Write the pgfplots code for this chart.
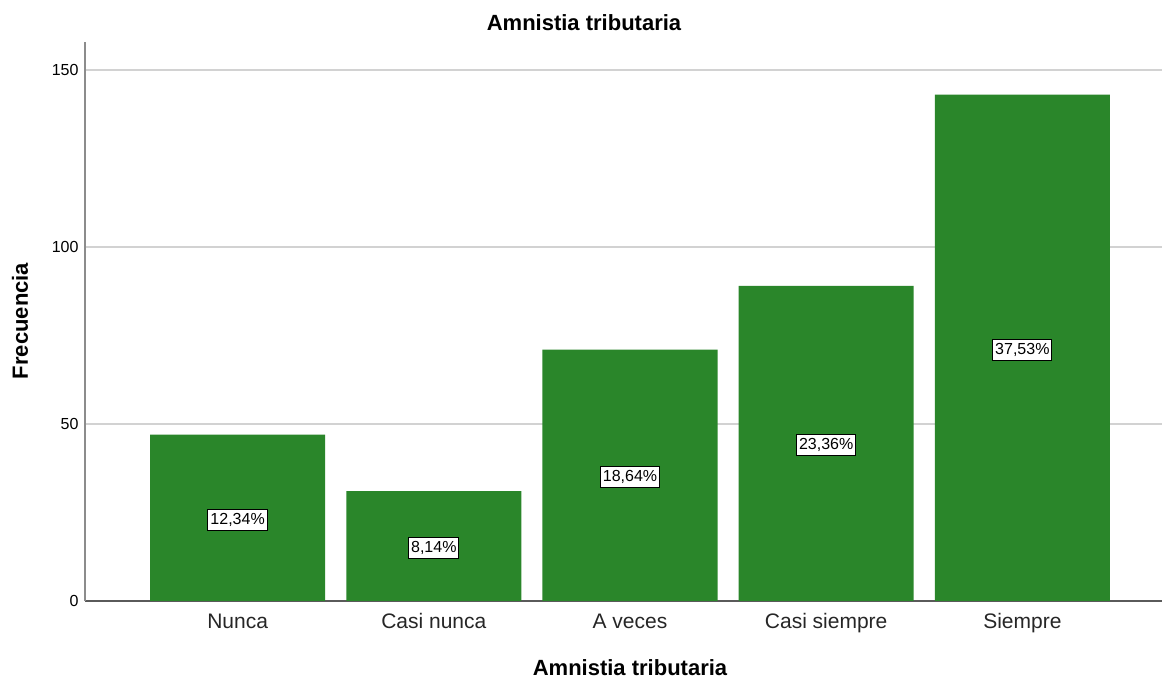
\documentclass[border=0pt]{standalone}
\usepackage{fontspec}
\setmainfont{Liberation Sans}
\usepackage{pgfplots}
\pgfplotsset{compat=1.18}
\definecolor{barg}{RGB}{42,134,42}
\definecolor{gridg}{RGB}{210,210,210}
\definecolor{axg}{RGB}{140,140,140}
\definecolor{axb}{RGB}{90,90,90}
\begin{document}
\begin{tikzpicture}[x=1bp,y=1bp]
\path[use as bounding box] (0,0) rectangle (1162,679);
\begin{axis}[
  at={(85bp,78bp)}, anchor=south west,
  scale only axis, width=1077bp, height=559bp,
  xmin=-0.778, xmax=4.712, ymin=0, ymax=157.9,
  axis x line*=bottom, axis y line*=left,
  x axis line style={axb, line width=1.5bp},
  y axis line style={axg, line width=1.5bp},
  major tick length=0pt,
  ytick={0,50,100,150},
  ymajorgrids, grid style={gridg, line width=1.5bp},
  xtick={0,1,2,3,4},
  xticklabels={Nunca, Casi nunca, A veces, Casi siempre, Siempre},
  xticklabel style={font=\fontsize{21bp}{24bp}\selectfont, text=black!85,
    text height=15bp, text depth=5bp, yshift=-9bp},
  yticklabel style={font=\fontsize{16bp}{18bp}\selectfont, xshift=-3bp},
  /pgf/number format/assume math mode=true,
  clip=false,
]
\addplot[ybar, bar width=175bp, bar shift=0pt, fill=barg, draw=none]
  coordinates {(0,47) (1,31) (2,71) (3,89) (4,143)};
\addplot[only marks, mark=none, point meta=explicit,
  nodes near coords={\pgfmathprintnumber[fixed,fixed zerofill,precision=2,use comma]{\pgfplotspointmeta}\%},
  nodes near coords style={anchor=center, draw=black, fill=white, line width=1bp,
    inner xsep=2.5bp, inner ysep=3bp, text height=12bp, text depth=3bp,
    font=\fontsize{16bp}{19bp}\selectfont, text=black, yshift=-2bp}]
  coordinates {(0,23.5) [12.34] (1,15.5) [8.14] (2,35.5) [18.64] (3,44.5) [23.36] (4,71.5) [37.53]};
\end{axis}
\node[font=\bfseries\fontsize{22bp}{26bp}\selectfont] at (584,656) {Amnistia tributaria};
\node[font=\bfseries\fontsize{22bp}{26bp}\selectfont] at (630,11) {Amnistia tributaria};
\node[font=\bfseries\fontsize{22bp}{26bp}\selectfont, rotate=90] at (20,358) {Frecuencia};
\end{tikzpicture}
\end{document}
